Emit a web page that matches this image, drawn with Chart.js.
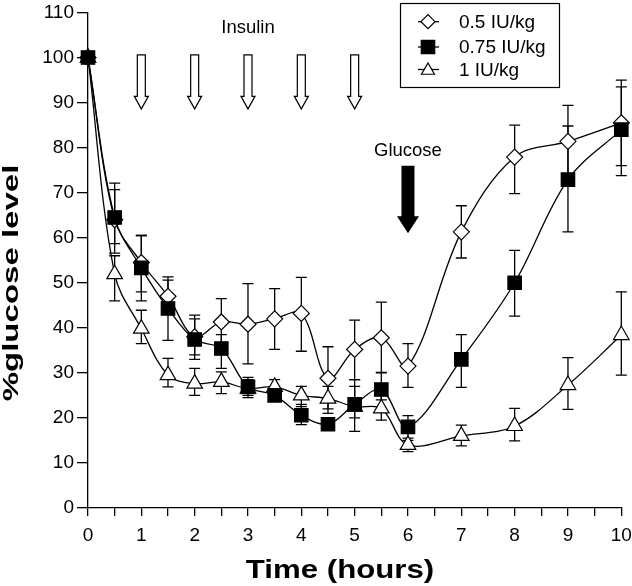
<!DOCTYPE html>
<html>
<head>
<meta charset="utf-8">
<script src="https://cdn.jsdelivr.net/npm/chart.js@4"></script>
<style>
  html, body { margin: 0; padding: 0; background: #fff; }
  #wrap { width: 632px; height: 586px; }
</style>
</head>
<body>
<div id="wrap"><canvas id="myChart" width="632" height="586"></canvas></div>
<script>
// time points (hours)
const hours = [0, 0.5, 1, 1.5, 2, 2.5, 3, 3.5, 4, 4.5, 5, 5.5, 6, 7, 8, 9, 10];

// 0.5 IU/kg
const dose05 = [100, 64, 54.5, 47, 38, 41.3, 40.8, 42, 43.2, 28.8, 35.2, 37.8, 31.5, 61.3, 77.9, 81.4, 85.5];
const dose05Lo = [100, 58.7, 48, 43, 33, 36, 32, 35.2, 34.8, 22, 28.5, 30, 26.8, 55.5, 69.8, 73, 76];
const dose05Hi = [100, 70.7, 60.5, 51.3, 42, 46.5, 49.8, 48.7, 51.2, 35.8, 41.7, 45.7, 36.5, 67.1, 85, 89.4, 95];

// 0.75 IU/kg
const dose075 = [100, 64.5, 53.3, 44.3, 37.4, 35.4, 26.9, 25, 20.6, 18.6, 23, 26.3, 18, 33, 50, 72.9, 84];
const dose075Lo = [100, 56.6, 46, 37.2, 34, 31, 25, 24, 18.5, 17.5, 17, 24, 15, 26.8, 42.6, 61.3, 73.8];
const dose075Hi = [100, 72.1, 60.5, 50.6, 42.8, 38.5, 29, 26.5, 23, 20, 28.5, 30.1, 20.5, 38.5, 57.2, 84.8, 93.5];

// 1 IU/kg
const dose1 = [100, 51.9, 39.8, 29.5, 27.6, 28, 26.5, 26.9, 25, 24.3, 22.5, 22.1, 14, 16, 18.2, 27.3, 38.4];
const dose1Lo = [100, 46, 36.5, 26.9, 25, 25.4, 24.5, 24.5, 22.5, 21, 20, 19.5, 12.5, 13.8, 14.9, 21.9, 29.5];
const dose1Hi = [100, 56, 43.9, 33.2, 31, 30.2, 28.5, 28.5, 27, 27, 27, 25, 15.5, 18.4, 22.1, 33.4, 48];

const seriesNames = ['0.5 IU/kg', '0.75 IU/kg', '1 IU/kg'];

// insulin injections and glucose dose
const insulinTimes = [1, 2, 3, 4, 5];
const glucoseTime = 6;

const FONT = '"Liberation Sans", Arial, sans-serif';

function pts(ys) {
    return hours.map((h, i) => ({ x: h, y: ys[i] }));
}

// error bars drawn under the markers
const errorBars = {
    id: 'errorBars',
    beforeDatasetsDraw(chart) {
        const { ctx, scales: { x, y } } = chart;
        const sets = [[dose05Lo, dose05Hi], [dose075Lo, dose075Hi], [dose1Lo, dose1Hi]];
        ctx.save();
        ctx.strokeStyle = '#000';
        ctx.lineWidth = 1.3;
        sets.forEach(([lo, hi]) => {
            hours.forEach((h, i) => {
                if (lo[i] === hi[i]) return;
                const px = x.getPixelForValue(h);
                const y1 = y.getPixelForValue(lo[i]);
                const y2 = y.getPixelForValue(hi[i]);
                ctx.beginPath();
                ctx.moveTo(px, y1); ctx.lineTo(px, y2);
                ctx.moveTo(px - 5.5, y1); ctx.lineTo(px + 5.5, y1);
                ctx.moveTo(px - 5.5, y2); ctx.lineTo(px + 5.5, y2);
                ctx.stroke();
            });
        });
        ctx.restore();
    }
};

function arrow(ctx, cx, top, bottom, shaftW, headW, headL, filled) {
    ctx.beginPath();
    ctx.moveTo(cx - shaftW / 2, top);
    ctx.lineTo(cx + shaftW / 2, top);
    ctx.lineTo(cx + shaftW / 2, bottom - headL);
    ctx.lineTo(cx + headW / 2, bottom - headL);
    ctx.lineTo(cx, bottom);
    ctx.lineTo(cx - headW / 2, bottom - headL);
    ctx.lineTo(cx - shaftW / 2, bottom - headL);
    ctx.closePath();
    if (filled) {
        ctx.fillStyle = '#000';
        ctx.fill();
    } else {
        ctx.fillStyle = '#fff';
        ctx.fill();
        ctx.lineWidth = 1.2;
        ctx.strokeStyle = '#000';
        ctx.stroke();
    }
}

// stretched text, the original figure's titles are drawn elongated
function stretchedText(ctx, text, x, y, rot, sx) {
    ctx.save();
    ctx.translate(x, y);
    ctx.rotate(rot);
    ctx.scale(sx, 1);
    ctx.fillText(text, 0, 0);
    ctx.restore();
}

const annotations = {
    id: 'annotations',
    afterDraw(chart) {
        const { ctx, scales: { x, y } } = chart;
        ctx.save();
        ctx.font = '18.5px ' + FONT;
        ctx.fillStyle = '#000';
        ctx.textAlign = 'center';
        ctx.textBaseline = 'middle';
        ctx.fillText('Insulin', x.getPixelForValue(3), y.getPixelForValue(106.5));
        insulinTimes.forEach(t => {
            arrow(ctx, x.getPixelForValue(t), y.getPixelForValue(100.6), y.getPixelForValue(88.6), 8, 14, 12.5, false);
        });
        ctx.fillStyle = '#000';
        ctx.fillText('Glucose', x.getPixelForValue(glucoseTime), y.getPixelForValue(79.2));
        arrow(ctx, x.getPixelForValue(glucoseTime), y.getPixelForValue(76), y.getPixelForValue(61), 13, 22, 17, true);

        // axis titles
        ctx.font = 'bold 22px ' + FONT;
        stretchedText(ctx, '%glucose level', 12, 283, -Math.PI / 2, 1.5);
        ctx.font = 'bold 26px ' + FONT;
        stretchedText(ctx, 'Time (hours)', 340, 571, 0, 1.2);

        // legend box
        ctx.lineWidth = 1.2;
        ctx.strokeStyle = '#000';
        ctx.strokeRect(400.5, 3.5, 159, 84);
        const styles = [
            { style: 'rectRot', r: 7, fill: '#fff' },
            { style: 'rect', r: 9.5, fill: '#000' },
            { style: 'triangle', r: 7.5, fill: '#fff' }
        ];
        ctx.textAlign = 'left';
        ctx.font = '19px ' + FONT;
        const rows = [21.7, 47, 69.5];
        seriesNames.forEach((name, i) => {
            const ly = rows[i];
            ctx.beginPath();
            ctx.lineWidth = 1.3;
            ctx.moveTo(418, ly); ctx.lineTo(439, ly);
            ctx.stroke();
            ctx.fillStyle = styles[i].fill;
            ctx.lineWidth = 1.2;
            Chart.helpers.drawPoint(ctx, { pointStyle: styles[i].style, radius: styles[i].r, rotation: 0, borderWidth: 1.2 }, 428, ly + (i === 2 ? 1 : 0));
            ctx.fillStyle = '#000';
            ctx.fillText(name, 459, ly + 1);
        });
        ctx.restore();
    }
};

const ctx = document.getElementById('myChart').getContext('2d');
new Chart(ctx, {
    type: 'line',
    data: {
        datasets: [
            {
                label: seriesNames[1], data: pts(dose075), order: 0,
                pointStyle: 'rect', pointRadius: 9.5, pointBackgroundColor: '#000',
            },
            {
                label: seriesNames[0], data: pts(dose05), order: 1,
                pointStyle: 'rectRot', pointRadius: 8, pointBackgroundColor: '#fff',
            },
            {
                label: seriesNames[2], data: pts(dose1), order: 2,
                pointStyle: 'triangle', pointRadius: 9, pointBackgroundColor: '#fff',
            }
        ].map(d => Object.assign({
            borderColor: '#000', borderWidth: 1.3, pointBorderColor: '#000',
            pointBorderWidth: 1.2, tension: 0.35, fill: false, clip: false
        }, d))
    },
    options: {
        responsive: false,
        animation: false,
        layout: { padding: { top: 12.5, right: 10.5, left: 0, bottom: 0 } },
        plugins: { legend: { display: false }, tooltip: { enabled: false } },
        scales: {
            x: {
                type: 'linear', min: 0, max: 10,
                ticks: {
                    stepSize: 0.5, autoSkip: false, maxRotation: 0, padding: 8,
                    color: '#000', font: { size: 19, family: FONT },
                    callback: v => Number.isInteger(v) ? v : ''
                },
                grid: { drawOnChartArea: false, tickLength: 8, color: '#000', lineWidth: 1.3 },
                border: { color: '#000', width: 1.3 },
                afterFit: s => { s.height = 78; s.paddingLeft = 0; s.paddingRight = 0; }
            },
            y: {
                min: 0, max: 110,
                ticks: { stepSize: 10, color: '#000', padding: 3, font: { size: 19, family: FONT } },
                grid: { drawOnChartArea: false, tickLength: 11, color: '#000', lineWidth: 1.3 },
                border: { color: '#000', width: 1.3 },
                afterFit: s => { s.width = 88; s.paddingTop = 0; s.paddingBottom = 0; }
            }
        }
    },
    plugins: [errorBars, annotations]
});
</script>
</body>
</html>
